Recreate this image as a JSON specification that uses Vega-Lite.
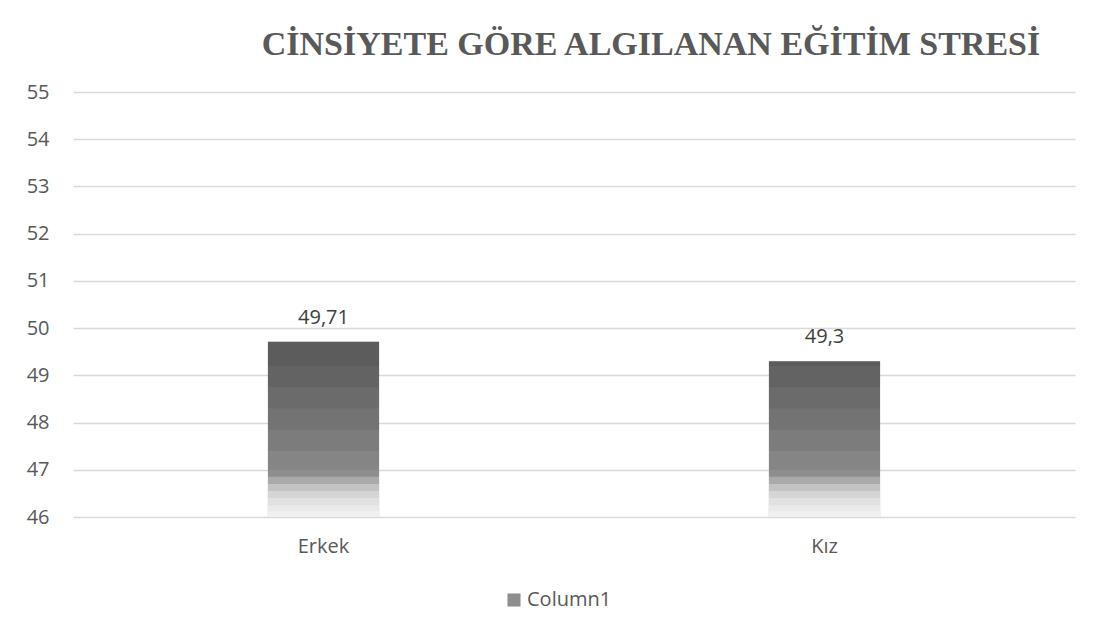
{
  "$schema": "https://vega.github.io/schema/vega-lite/v6.json",
  "width": 1002,
  "height": 425,
  "autosize": {"type": "none"},
  "padding": {"left": 73, "top": 92, "right": 30, "bottom": 125},
  "background": "#ffffff",
  "title": {
    "text": "CİNSİYETE GÖRE ALGILANAN EĞİTİM STRESİ",
    "font": "Liberation Serif",
    "fontSize": 34,
    "fontWeight": "bold",
    "color": "#595959",
    "anchor": "middle",
    "dx": 77,
    "baseline": "alphabetic",
    "offset": -7
  },
  "data": {
    "values": [
      {"cinsiyet": "Erkek", "deger": 49.71, "etiket": "49,71", "seri": "Column1"},
      {"cinsiyet": "Kız", "deger": 49.3, "etiket": "49,3", "seri": "Column1"}
    ]
  },
  "encoding": {
    "x": {
      "field": "cinsiyet",
      "type": "nominal",
      "sort": null,
      "scale": {"paddingInner": 0.778, "paddingOuter": 0.389},
      "axis": {
        "title": null,
        "labelAngle": 0,
        "domain": false,
        "ticks": false,
        "grid": false,
        "labelFont": "Open Sans",
        "labelFontSize": 20,
        "labelColor": "#595959",
        "labelPadding": 19
      }
    },
    "y": {
      "field": "deger",
      "type": "quantitative",
      "scale": {"domain": [46, 55], "nice": false, "zero": false},
      "axis": {
        "title": null,
        "values": [46, 47, 48, 49, 50, 51, 52, 53, 54, 55],
        "domain": false,
        "ticks": false,
        "grid": true,
        "gridColor": "#d9d9d9",
        "gridWidth": 1.3,
        "labelFont": "Open Sans",
        "labelFontSize": 20,
        "labelColor": "#595959",
        "labelPadding": 24
      }
    }
  },
  "layer": [
    {
      "mark": {"type": "bar", "clip": true},
      "encoding": {
        "color": {
          "field": "seri",
          "type": "nominal",
          "scale": {"range": ["#8e8e8e"]},
          "legend": {
            "title": null,
            "orient": "none",
            "legendX": 431,
            "legendY": 498,
            "padding": 0,
            "symbolType": "square",
            "symbolSize": 170,
            "symbolStrokeWidth": 0,
            "labelFont": "Open Sans",
            "labelFontSize": 20,
            "labelColor": "#595959",
            "labelOffset": 3
          }
        }
      }
    },
    {"mark": {"type": "bar", "color": "#000000", "opacity": 0.065}, "encoding": {"y2": {"datum": 49.2}}},
    {"mark": {"type": "bar", "color": "#000000", "opacity": 0.065}, "encoding": {"y2": {"datum": 48.75}}},
    {"mark": {"type": "bar", "color": "#000000", "opacity": 0.065}, "encoding": {"y2": {"datum": 48.3}}},
    {"mark": {"type": "bar", "color": "#000000", "opacity": 0.065}, "encoding": {"y2": {"datum": 47.85}}},
    {"mark": {"type": "bar", "color": "#000000", "opacity": 0.065}, "encoding": {"y2": {"datum": 47.4}}},
    {"mark": {"type": "bar", "color": "#000000", "opacity": 0.06}, "encoding": {"y2": {"datum": 47.0}}},
    {"mark": {"type": "bar", "color": "#ffffff", "opacity": 0.25}, "encoding": {"y": {"datum": 46, "type": "quantitative"}, "y2": {"datum": 46.85}}},
    {"mark": {"type": "bar", "color": "#ffffff", "opacity": 0.3}, "encoding": {"y": {"datum": 46, "type": "quantitative"}, "y2": {"datum": 46.7}}},
    {"mark": {"type": "bar", "color": "#ffffff", "opacity": 0.3}, "encoding": {"y": {"datum": 46, "type": "quantitative"}, "y2": {"datum": 46.55}}},
    {"mark": {"type": "bar", "color": "#ffffff", "opacity": 0.3}, "encoding": {"y": {"datum": 46, "type": "quantitative"}, "y2": {"datum": 46.4}}},
    {"mark": {"type": "bar", "color": "#ffffff", "opacity": 0.3}, "encoding": {"y": {"datum": 46, "type": "quantitative"}, "y2": {"datum": 46.25}}},
    {"mark": {"type": "bar", "color": "#ffffff", "opacity": 0.3}, "encoding": {"y": {"datum": 46, "type": "quantitative"}, "y2": {"datum": 46.12}}},
    {
      "mark": {
        "type": "text",
        "baseline": "alphabetic",
        "dy": -18,
        "font": "Open Sans",
        "fontSize": 20,
        "color": "#404040"
      },
      "encoding": {
        "text": {"field": "etiket", "type": "nominal"}
      }
    }
  ],
  "config": {
    "view": {"stroke": null}
  }
}
